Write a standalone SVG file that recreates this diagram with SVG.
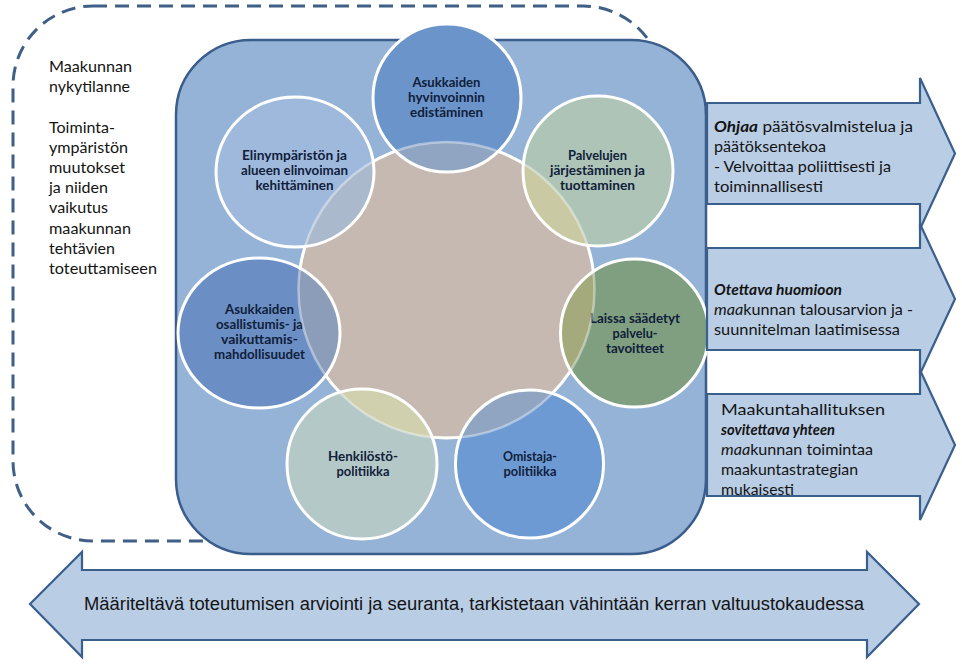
<svg xmlns="http://www.w3.org/2000/svg" width="962" height="665" viewBox="0 0 962 665">
<style>
.lt{font-family:Lato,"Liberation Sans",sans-serif;font-size:16px;fill:#141414}
.ct{font-family:Lato,"Liberation Sans",sans-serif;font-size:13.5px;font-weight:bold;fill:#10203a;text-anchor:middle}
.arw{fill:#b9cde5;stroke:#3b5f8c;stroke-width:2.2;stroke-linejoin:miter}
.sat{stroke:none}
.ring{fill:none;stroke:#ffffff;stroke-width:3}
.bi{font-weight:bold;font-style:italic}
.it{font-style:italic}
</style>
<defs>
<clipPath id="cc"><circle cx="446.5" cy="290" r="148"/></clipPath>
</defs>
<rect width="962" height="665" fill="#ffffff"/>

<g id="scope">
<rect x="13" y="6" width="650" height="535" rx="80" ry="80" fill="none" stroke="#3f5f86" stroke-width="3" stroke-dasharray="14 8"/>
<text class="lt" x="49" y="72" textLength="83" lengthAdjust="spacingAndGlyphs">Maakunnan</text>
<text class="lt" x="49" y="92" textLength="81" lengthAdjust="spacingAndGlyphs">nykytilanne</text>
<text class="lt" x="49" y="133" textLength="66" lengthAdjust="spacingAndGlyphs">Toiminta-</text>
<text class="lt" x="49" y="153" textLength="79" lengthAdjust="spacingAndGlyphs">ympäristön</text>
<text class="lt" x="49" y="173" textLength="76" lengthAdjust="spacingAndGlyphs">muutokset</text>
<text class="lt" x="49" y="193" textLength="59" lengthAdjust="spacingAndGlyphs">ja niiden</text>
<text class="lt" x="49" y="213" textLength="59" lengthAdjust="spacingAndGlyphs">vaikutus</text>
<text class="lt" x="49" y="234" textLength="82" lengthAdjust="spacingAndGlyphs">maakunnan</text>
<text class="lt" x="49" y="254" textLength="66" lengthAdjust="spacingAndGlyphs">tehtävien</text>
<text class="lt" x="49" y="274" textLength="108" lengthAdjust="spacingAndGlyphs">toteuttamiseen</text>
</g>

<g id="strategy-box">
<rect x="176" y="40" width="530" height="514" rx="75" ry="75" fill="#95b3d7" stroke="#3a5d8c" stroke-width="2.5"/>
</g>

<g id="core">
<circle cx="446.5" cy="290" r="148" fill="#c5b9b1" stroke="#ffffff" stroke-width="3"/>
</g>

<g id="n-hyvinvointi">
<circle class="sat" cx="447" cy="98" r="74" fill="#6b94cb"/>
<circle class="sat" cx="447" cy="98" r="74" fill="#8fa5c1" clip-path="url(#cc)"/>
<circle class="ring" cx="447" cy="98" r="74"/>
<text class="ct" x="446.5" y="87" textLength="68" lengthAdjust="spacingAndGlyphs">Asukkaiden</text>
<text class="ct" x="446.5" y="102" textLength="77" lengthAdjust="spacingAndGlyphs">hyvinvoinnin</text>
<text class="ct" x="446.5" y="117" textLength="73" lengthAdjust="spacingAndGlyphs">edistäminen</text>
</g>

<g id="n-palvelut">
<circle class="sat" cx="598" cy="171" r="75" fill="#adc4b6"/>
<circle class="sat" cx="598" cy="171" r="75" fill="#c9caa4" clip-path="url(#cc)"/>
<circle class="ring" cx="598" cy="171" r="75"/>
<text class="ct" x="597.5" y="160" textLength="59" lengthAdjust="spacingAndGlyphs">Palvelujen</text>
<text class="ct" x="597.5" y="175" textLength="95" lengthAdjust="spacingAndGlyphs">järjestäminen ja</text>
<text class="ct" x="597.5" y="190" textLength="75" lengthAdjust="spacingAndGlyphs">tuottaminen</text>
</g>

<g id="n-laissa">
<circle class="sat" cx="634.5" cy="333" r="74" fill="#7f9f80"/>
<circle class="sat" cx="634.5" cy="333" r="74" fill="#a4aa7b" clip-path="url(#cc)"/>
<circle class="ring" cx="634.5" cy="333" r="74"/>
<text class="ct" x="635" y="323" textLength="90" lengthAdjust="spacingAndGlyphs">Laissa säädetyt</text>
<text class="ct" x="635" y="338" textLength="45" lengthAdjust="spacingAndGlyphs">palvelu-</text>
<text class="ct" x="635" y="353" textLength="58" lengthAdjust="spacingAndGlyphs">tavoitteet</text>
</g>

<g id="n-omistaja">
<circle class="sat" cx="529.5" cy="464" r="74" fill="#6e9ad4"/>
<circle class="sat" cx="529.5" cy="464" r="74" fill="#8fa5c2" clip-path="url(#cc)"/>
<circle class="ring" cx="529.5" cy="464" r="74"/>
<text class="ct" x="530" y="461" textLength="54" lengthAdjust="spacingAndGlyphs">Omistaja-</text>
<text class="ct" x="530" y="476" textLength="53" lengthAdjust="spacingAndGlyphs">politiikka</text>
</g>

<g id="n-henkilosto">
<circle class="sat" cx="362" cy="464" r="75" fill="#b4c8c7"/>
<circle class="sat" cx="362" cy="464" r="75" fill="#d0d0ae" clip-path="url(#cc)"/>
<circle class="ring" cx="362" cy="464" r="75"/>
<text class="ct" x="363" y="461" textLength="70" lengthAdjust="spacingAndGlyphs">Henkilöstö-</text>
<text class="ct" x="363" y="476" textLength="53" lengthAdjust="spacingAndGlyphs">politiikka</text>
</g>

<g id="n-osallistuminen">
<ellipse class="sat" cx="259" cy="333" rx="81" ry="75" fill="#6b8fc5"/>
<ellipse class="sat" cx="259" cy="333" rx="81" ry="75" fill="#8c9db9" clip-path="url(#cc)"/>
<ellipse class="ring" cx="259" cy="333" rx="81" ry="75"/>
<text class="ct" x="259.5" y="314" textLength="69" lengthAdjust="spacingAndGlyphs">Asukkaiden</text>
<text class="ct" x="259.5" y="329" textLength="87" lengthAdjust="spacingAndGlyphs">osallistumis- ja</text>
<text class="ct" x="259.5" y="344" textLength="77" lengthAdjust="spacingAndGlyphs">vaikuttamis-</text>
<text class="ct" x="259.5" y="359" textLength="91" lengthAdjust="spacingAndGlyphs">mahdollisuudet</text>
</g>

<g id="n-elinymparisto">
<ellipse class="sat" cx="295" cy="172" rx="79" ry="75" fill="#9fb9dd"/>
<ellipse class="sat" cx="295" cy="172" rx="79" ry="75" fill="#abb9cc" clip-path="url(#cc)"/>
<ellipse class="ring" cx="295" cy="172" rx="79" ry="75"/>
<text class="ct" x="294.5" y="160" textLength="105" lengthAdjust="spacingAndGlyphs">Elinympäristön ja</text>
<text class="ct" x="294.5" y="175" textLength="107" lengthAdjust="spacingAndGlyphs">alueen elinvoiman</text>
<text class="ct" x="294.5" y="190" textLength="78" lengthAdjust="spacingAndGlyphs">kehittäminen</text>
</g>

<g id="core-outline">
<circle cx="446.5" cy="290" r="148" fill="none" stroke="#ffffff" stroke-width="2.5" stroke-opacity="0.4"/>
</g>

<g id="a-ohjaa">
<polygon class="arw" points="707,103 920,103 920,78 955,153.5 920,229 920,204 707,204"/>
<text class="lt" x="714" y="132" textLength="199" lengthAdjust="spacingAndGlyphs"><tspan class="bi">Ohjaa</tspan> päätösvalmistelua ja</text>
<text class="lt" x="714" y="152" textLength="112" lengthAdjust="spacingAndGlyphs">päätöksentekoa</text>
<text class="lt" x="714" y="172" textLength="177" lengthAdjust="spacingAndGlyphs">- Velvoittaa poliittisesti ja</text>
<text class="lt" x="714" y="192" textLength="109" lengthAdjust="spacingAndGlyphs">toiminnallisesti</text>
</g>

<g id="a-otettava">
<polygon class="arw" points="707,248 920,248 920,224 955,299 920,374 920,350 707,350"/>
<text class="lt" x="714" y="295" textLength="128" lengthAdjust="spacingAndGlyphs"><tspan class="bi">Otettava huomioon</tspan></text>
<text class="lt" x="714" y="315" textLength="199" lengthAdjust="spacingAndGlyphs"><tspan class="it">maa</tspan>kunnan talousarvion ja -</text>
<text class="lt" x="714" y="335" textLength="186" lengthAdjust="spacingAndGlyphs">suunnitelman laatimisessa</text>
</g>

<g id="a-sovitettava">
<polygon class="arw" points="707,394 920,394 920,370 955,445 920,520 920,496 707,496"/>
<text class="lt" x="721" y="415" textLength="164" lengthAdjust="spacingAndGlyphs">Maakuntahallituksen</text>
<text class="lt" x="721" y="435" textLength="114" lengthAdjust="spacingAndGlyphs"><tspan class="bi">sovitettava yhteen</tspan></text>
<text class="lt" x="721" y="455" textLength="152" lengthAdjust="spacingAndGlyphs"><tspan class="it">maa</tspan>kunnan toimintaa</text>
<text class="lt" x="721" y="475" textLength="137" lengthAdjust="spacingAndGlyphs">maakuntastrategian</text>
<text class="lt" x="721" y="495" textLength="73" lengthAdjust="spacingAndGlyphs">mukaisesti</text>
</g>

<g id="a-arviointi">
<polygon class="arw" points="30,604 82,552 82,570 867,570 867,552 919,604 867,657 867,640 82,640 82,657"/>
<text x="84" y="610" textLength="780" lengthAdjust="spacingAndGlyphs" style="font-family:'Liberation Sans',sans-serif;font-size:17.5px;fill:#141414">Määriteltävä toteutumisen arviointi ja seuranta, tarkistetaan vähintään kerran valtuustokaudessa</text>
</g>
</svg>
